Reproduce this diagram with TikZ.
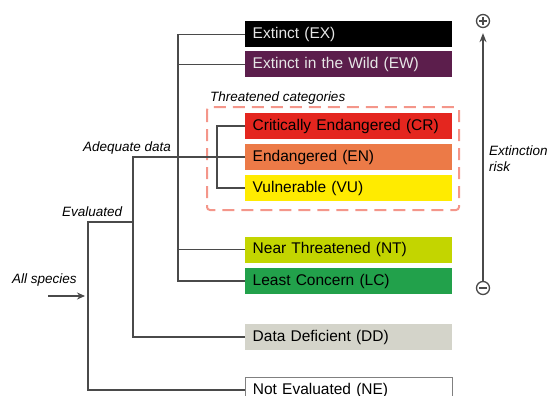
\documentclass[tikz,border=0pt]{standalone}
\usepackage{fontspec}
\setmainfont{Liberation Sans}
\usetikzlibrary{arrows.meta}
\definecolor{cEX}{HTML}{000000}
\definecolor{cEW}{HTML}{5C1E4C}
\definecolor{cCR}{HTML}{E4261F}
\definecolor{cEN}{HTML}{EC7A47}
\definecolor{cVU}{HTML}{FFEB00}
\definecolor{cNT}{HTML}{C3D500}
\definecolor{cLC}{HTML}{22A14B}
\definecolor{cDD}{HTML}{D4D4CA}
\definecolor{cDash}{HTML}{F4968A}
\definecolor{cLine}{HTML}{4A4A4A}
\definecolor{cLight}{HTML}{E6E6E6}
\tikzset{
  catbox/.style={anchor=west, minimum height=26pt, text width=192pt, align=left,
    inner xsep=7.5pt, inner ysep=0pt, font=\fontsize{15.5}{18}\selectfont, text=black},
  lbl/.style={font=\fontsize{13.5}{16}\selectfont\itshape, inner sep=0pt},
  tree/.style={draw=cLine, line width=1.3pt},
  sign/.style={circle, draw=cLine, line width=1.3pt, minimum size=13pt, inner sep=0pt}
}
\begin{document}
\begin{tikzpicture}[x=1pt,y=-1pt]
\useasboundingbox (0,0) rectangle (549,396);
% dashed threatened frame
\draw[cDash, line width=2pt, dash pattern=on 12pt off 7pt, rounded corners=3pt] (207,107) rectangle (459,210);
\node[lbl, anchor=base west] (thr) at (210,102) {Threatened categories};
% boxes
\node[catbox, fill=cEX, text=cLight] (EX) at (245,34.5) {Extinct (EX)};
\node[catbox, fill=cEW, text=cLight] (EW) at (245,64.5) {Extinct in the Wild (EW)};
\node[catbox, fill=cCR] (CR) at (245,126) {\mbox{Critically Endangered (CR)}};
\node[catbox, fill=cEN] (EN) at (245,157) {Endangered (EN)};
\node[catbox, fill=cVU] (VU) at (245,188) {Vulnerable (VU)};
\node[catbox, fill=cNT] (NT) at (245,249.5) {Near Threatened (NT)};
\node[catbox, fill=cLC] (LC) at (245,281) {Least Concern (LC)};
\node[catbox, fill=cDD] (DD) at (245,337) {Data Deficient (DD)};
\node[catbox, fill=white, draw=cLine!70, line width=0.8pt] (NE) at (245,390) {Not Evaluated (NE)};
% tree connectors
\draw[tree] (EX.west) -- ++(-67,0) |- (LC.west);
\draw[tree] (EW.west) -- ++(-67,0);
\draw[tree] (NT.west) -- ++(-67,0);
\draw[tree] (CR.west) -- ++(-28,0) |- (VU.west);
\draw[tree] (EN.west) -- ++(-112,0) |- (DD.west);
\coordinate (evj) at (133,222);
\coordinate (evc) at (88,222);
\draw[tree] (evj) -- (evc) |- (NE.west);
% labels
\node[lbl, anchor=base west] (ad) at (83,151) {Adequate data};
\node[lbl, anchor=base west] (ev) at (62,216) {Evaluated};
\node[lbl, anchor=base west] (all) at (12,283) {All species};
\coordinate (asS) at (48,296);
\coordinate (asE) at (85,296);
\draw[tree, -{Stealth[length=8pt,width=7pt]}] (asS) -- (asE);
% extinction risk axis
\node[sign] (plus) at (483,21) {};
\draw[cLine, line width=1.3pt] ([xshift=-3.8pt]plus.center) -- ([xshift=3.8pt]plus.center)
  ([yshift=-3.8pt]plus.center) -- ([yshift=3.8pt]plus.center);
\node[sign] (minus) at (483,288) {};
\draw[cLine, line width=1.3pt] ([xshift=-3.8pt]minus.center) -- ([xshift=3.8pt]minus.center);
\draw[cLine, line width=1.3pt, -{Stealth[length=9pt,width=7pt]}] (minus.north) -- ([yshift=-5pt]plus.south);
\node[lbl, anchor=base west, align=left] (risk) at (489,171) {Extinction\\risk};
\end{tikzpicture}
\end{document}
